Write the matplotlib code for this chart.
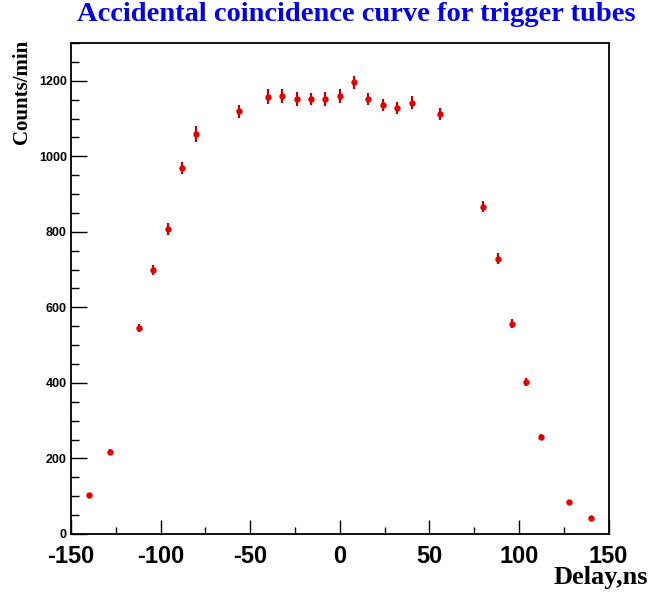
import matplotlib
matplotlib.use("Agg")
import matplotlib.pyplot as plt
from matplotlib.ticker import MultipleLocator

plt.rcParams["axes.unicode_minus"] = False

# delay (ns), counts per minute and the error
delay = [-140, -128, -112, -104, -96, -88, -80, -56, -40, -32, -24, -16, -8, 0,
         8, 16, 24, 32, 40, 56, 80, 88, 96, 104, 112, 128, 140]
counts = [102, 217, 545, 699, 808, 970, 1059, 1119, 1158, 1159, 1152, 1151, 1152, 1160,
          1196, 1151, 1136, 1128, 1142, 1111, 867, 729, 557, 402, 256, 85, 43]
errors = [5, 7, 11, 13, 16, 16, 20, 18, 20, 19, 19, 16, 18, 18,
          17, 16, 17, 16, 17, 16, 14, 14, 11, 10, 8, 5, 3]

fig = plt.figure(figsize=(6.51, 5.93), dpi=100)
ax = fig.add_axes([0.1091, 0.0995, 0.8258, 0.828])

ax.errorbar(delay, counts, yerr=errors, fmt="o", color="#e00000", ecolor="#c00000",
            markersize=4.6, elinewidth=1.6, capsize=0, markeredgewidth=0)

ax.set_xlim(-150, 150)
ax.set_ylim(0, 1300)
ax.xaxis.set_major_locator(MultipleLocator(50))
ax.xaxis.set_minor_locator(MultipleLocator(25))
ax.yaxis.set_major_locator(MultipleLocator(200))
ax.yaxis.set_minor_locator(MultipleLocator(50))

ax.tick_params(axis="both", which="both", direction="in", top=False, right=False, width=1)
ax.tick_params(axis="y", which="major", length=11.5, pad=3)
ax.tick_params(axis="y", which="minor", length=5.8)
ax.tick_params(axis="x", which="major", length=10, pad=8)
ax.tick_params(axis="x", which="minor", length=5)

for lab in ax.get_yticklabels():
    lab.set_fontfamily("Liberation Sans")
    lab.set_fontweight("bold")
    lab.set_fontsize(9)
for lab in ax.get_xticklabels():
    lab.set_fontfamily("Liberation Sans")
    lab.set_fontweight("bold")
    lab.set_fontsize(17)

for sp in ax.spines.values():
    sp.set_linewidth(1.3)

fig.text(0.547, 0.975, "Accidental coincidence curve for trigger tubes", ha="center", va="center",
         color="#0000ee", fontfamily="Liberation Serif", fontweight="bold", fontsize=20.5)
fig.text(0.034, 0.845, "Counts/min", rotation=90, ha="center", va="center",
         fontfamily="Liberation Serif", fontweight="bold", fontsize=15)
fig.text(0.996, 0.026, "Delay,ns", ha="right", va="center",
         fontfamily="Liberation Serif", fontweight="bold", fontsize=19)

fig.savefig("out.png", dpi=100)
